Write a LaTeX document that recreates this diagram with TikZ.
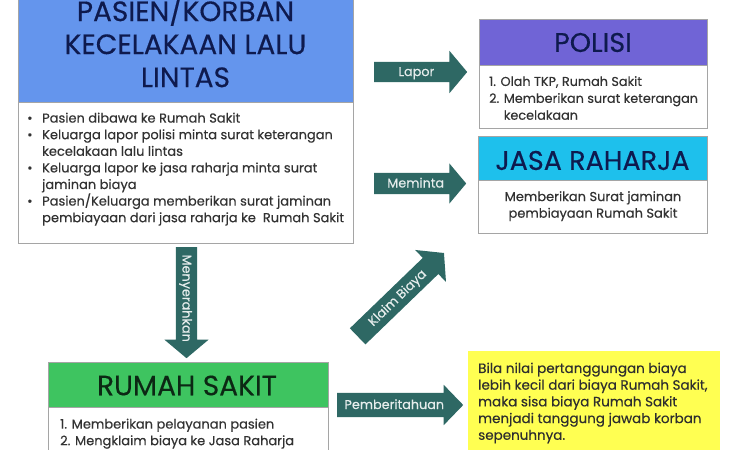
\documentclass[tikz,border=0pt]{standalone}
\usepackage{fontspec}
\setmainfont{Poppins}[FakeBold=0.35]
\usetikzlibrary{shapes.arrows}
\definecolor{hblue}{RGB}{100,149,237}
\definecolor{hpurple}{RGB}{112,100,214}
\definecolor{hcyan}{RGB}{30,192,236}
\definecolor{hgreen}{RGB}{62,196,96}
\definecolor{hyellow}{RGB}{255,255,82}
\definecolor{arrowteal}{RGB}{46,104,100}
\definecolor{navy}{RGB}{14,26,78}
\definecolor{dkgreen}{RGB}{12,40,20}
\definecolor{bodytxt}{RGB}{50,50,50}
\definecolor{bordergray}{RGB}{165,165,165}
\begin{document}
\begin{tikzpicture}[x=1pt,y=-1pt,
  panel/.style={draw=bordergray, line width=0.8pt, anchor=north west, inner sep=0pt},
  bodytext/.style={anchor=north west, inner sep=0pt, align=left, text=bodytxt,
    font=\fontsize{13}{16.6}\selectfont},
  flowarrow/.style={single arrow, fill=arrowteal, text=white!88!arrowteal,
    inner xsep=0pt, inner ysep=0pt, single arrow head indent=0pt,
    single arrow tip angle=100, font=\fontsize{12.8}{14}\selectfont}
]
\useasboundingbox (0,0) rectangle (750,450);
\fill[white] (0,0) rectangle (750,450);

% ---- PASIEN / KORBAN
\node[panel, fill=hblue, minimum width=335pt, minimum height=112pt] (pkh) at (18,-10) {};
\node[panel, fill=white, minimum width=335pt, minimum height=141pt] (pkb) at (18,102) {};
\node[anchor=center, align=center, text=navy, inner sep=0pt,
  font=\fontsize{28}{33}\selectfont] (pkt) at (185.5,41) {PASIEN/KORBAN\\KECELAKAAN LALU\\LINTAS};
\node[bodytext] (pktxt) at (27,112.5) {%
\makebox[15pt][l]{\textbullet}Pasien dibawa ke Rumah Sakit\\
\makebox[15pt][l]{\textbullet}Keluarga lapor polisi minta surat keterangan\\
\hspace*{15pt}kecelakaan lalu lintas\\
\makebox[15pt][l]{\textbullet}Keluarga lapor ke jasa raharja minta surat\\
\hspace*{15pt}jaminan biaya\\
\makebox[15pt][l]{\textbullet}Pasien/Keluarga memberikan surat jaminan\\
\hspace*{15pt}pembiayaan dari jasa raharja ke\ \ Rumah Sakit};

% ---- POLISI
\node[panel, fill=hpurple, minimum width=228pt, minimum height=46pt] (polh) at (479,19) {};
\node[panel, fill=white, minimum width=228pt, minimum height=63pt] (polb) at (479,65) {};
\node[text=navy, inner sep=0pt, font=\fontsize{27}{30}\selectfont] (polt) at (593,42.5) {POLISI};
\node[bodytext, font=\fontsize{12.8}{16.9}\selectfont] (poltxt) at (489,76) {%
1. Olah TKP, Rumah Sakit\\
2. Memberikan surat keterangan\\
\phantom{2. }kecelakaan};

% ---- JASA RAHARJA
\node[panel, fill=hcyan, minimum width=229pt, minimum height=44pt] (jrh) at (478,136) {};
\node[panel, fill=white, minimum width=229pt, minimum height=53pt] (jrb) at (478,180) {};
\node[text=navy, inner sep=0pt, font=\fontsize{27}{30}\selectfont] (jrt) at (592.5,160.5) {JASA RAHARJA};
\node[bodytext, anchor=north, align=center] (jrtxt) at (593,191) {%
Memberikan Surat jaminan\\
pembiayaan Rumah Sakit};

% ---- RUMAH SAKIT
\node[panel, fill=hgreen, minimum width=280pt, minimum height=45pt] (rsh) at (48,362) {};
\node[panel, fill=white, minimum width=280pt, minimum height=60pt] (rsb) at (48,407) {};
\node[text=dkgreen, inner sep=0pt, font=\fontsize{28}{30}\selectfont] (rst) at (187,385.5) {RUMAH SAKIT};
\node[bodytext] (rstxt) at (60,418.5) {%
1. Memberikan pelayanan pasien\\
2. Mengklaim biaya ke Jasa Raharja};

% ---- YELLOW NOTE
\node[anchor=north west, inner sep=0pt, fill=hyellow, minimum width=252pt, minimum height=110pt] (note) at (468,351) {};
\node[bodytext, text=black!82, font=\fontsize{13.5}{16.7}\selectfont] (notetxt) at (478,362.5) {%
Bila nilai pertanggungan biaya\\
lebih kecil dari biaya Rumah Sakit,\\
maka sisa biaya Rumah Sakit\\
menjadi tanggung jawab korban\\
sepenuhnya.};

% ---- ARROWS
\node[flowarrow, anchor=tail, minimum height=93pt, text height=14pt, text depth=6pt,
  single arrow head extend=11pt] (lapor) at (374,72) {Lapor};
\node[flowarrow, anchor=tail, minimum height=92pt, text height=14.5pt, text depth=6.5pt,
  single arrow head extend=9.5pt] (meminta) at (374,183.5) {Meminta};
\node[flowarrow, anchor=tail, rotate=-90, minimum height=111pt, text height=14.5pt, text depth=6.5pt,
  single arrow head extend=11.5pt] (menyerahkan) at (186.5,247) {Menyerahkan};
\node[flowarrow, anchor=tail, rotate=44, minimum height=120pt, text height=15pt, text depth=7pt,
  single arrow head extend=11pt] (klaim) at (357.5,336.5) {Klaim Biaya};
\node[flowarrow, anchor=tail, minimum height=126pt, text height=16pt, text depth=8pt,
  single arrow head extend=8pt, single arrow tip angle=92] (pemberitahuan) at (337,405) {Pemberitahuan};
\end{tikzpicture}
\end{document}
